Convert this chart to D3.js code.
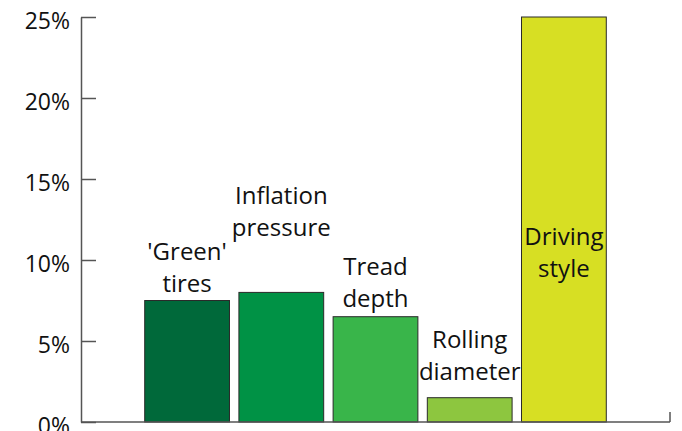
<!DOCTYPE html>
<html><head><meta charset="utf-8">
<script src="https://cdn.jsdelivr.net/npm/d3@7"></script>
<style>
html,body{margin:0;padding:0;background:#fff;}
svg{display:block;}
text{font-family:"Open Sans",sans-serif;fill:#111;}
</style></head>
<body>
<svg id="chart" width="682" height="431"></svg>
<script>
const categories = ["Green tires", "Inflation pressure", "Tread depth", "Rolling diameter", "Driving style"];
const values = [7.5, 8.0, 6.5, 1.5, 25];
const labelLines = [["'Green'", "tires"], ["Inflation", "pressure"], ["Tread", "depth"], ["Rolling", "diameter"], ["Driving", "style"]];
const labelLevels = [8.0, 11.5, 7.1, 2.6, 8.95];
const colors = ["#00693a", "#009245", "#39b54a", "#8dc63f", "#d7df23"];
const yTicks = [0, 5, 10, 15, 20, 25];

const svg = d3.select("#chart");
const y = d3.scaleLinear().domain([0, 25]).range([422, 17]);
const x = d3.scaleBand().domain(categories).range([140, 611]).paddingInner(0.1).paddingOuter(0.05);

// bars
svg.selectAll("rect.bar").data(categories).join("rect")
  .attr("class", "bar")
  .attr("x", d => x(d))
  .attr("y", (d, i) => y(values[i]))
  .attr("width", x.bandwidth())
  .attr("height", (d, i) => y(0) - y(values[i]))
  .attr("fill", (d, i) => colors[i])
  .attr("stroke", "#2a2a2a")
  .attr("stroke-width", 1);

// y axis
const yAxis = d3.axisLeft(y).tickValues(yTicks).tickFormat(d => d + "%").tickSizeInner(-15).tickSizeOuter(0).tickPadding(11);
const ga = svg.append("g").attr("transform", "translate(81,0)").call(yAxis);
ga.select(".domain").attr("stroke", "#555").attr("stroke-width", 1.5);
ga.selectAll(".tick line").attr("stroke", "#555").attr("stroke-width", 1.5);
ga.selectAll(".tick text").attr("font-size", 23).attr("font-family", "Open Sans, sans-serif").attr("fill", "#111").attr("dy", "0.52em");

// x baseline
svg.append("line").attr("x1", 81).attr("x2", 670).attr("y1", y(0)).attr("y2", y(0))
  .attr("stroke", "#555").attr("stroke-width", 1.5);
svg.append("line").attr("x1", 670).attr("x2", 670).attr("y1", y(0)).attr("y2", y(0) - 10)
  .attr("stroke", "#555").attr("stroke-width", 1.5);

// labels
const lineH = 32;
categories.forEach((c, i) => {
  const lines = labelLines[i];
  const base = y(labelLevels[i]);
  const t = svg.append("text")
    .attr("text-anchor", "middle")
    .attr("font-size", 24)
    .attr("x", x(c) + x.bandwidth() / 2);
  lines.forEach((ln, j) => {
    t.append("tspan").attr("x", x(c) + x.bandwidth() / 2)
      .attr("y", base - (lines.length - 1 - j) * lineH)
      .text(ln);
  });
});
</script>
</body></html>
